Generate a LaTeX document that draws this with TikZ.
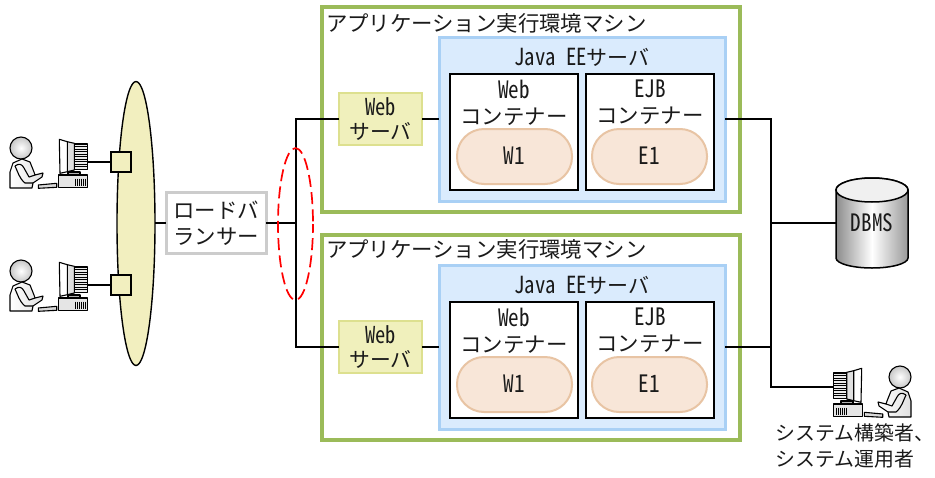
\documentclass[tikz,border=0pt]{standalone}
\usepackage{fontspec}
\setmainfont{Noto Sans CJK JP}
\newfontfamily\hw[RawFeature=+hwid,FakeStretch=0.88,Scale=1.12]{Noto Sans CJK JP}
\usetikzlibrary{shapes.geometric}
\definecolor{greenline}{HTML}{9BBB59}
\definecolor{javafill}{HTML}{DAEBFD}
\definecolor{javaline}{HTML}{A9D0F5}
\definecolor{wsfill}{HTML}{F0F0BC}
\definecolor{wsline}{HTML}{DDE08F}
\definecolor{pillfill}{HTML}{F8E6D8}
\definecolor{pillline}{HTML}{E8C4A4}
\definecolor{hubfill}{HTML}{F2EFBF}
\definecolor{lbline}{HTML}{CCCCCC}
\definecolor{ink}{HTML}{1A1A1A}
\tikzset{
  basefont/.style={font=\fontsize{21.4}{26}\selectfont, text=ink},
  label/.style={basefont, inner sep=0pt, outer sep=0pt, align=center},
  sized/.style n args={2}{rectangle, inner sep=0pt, outer sep=0pt, minimum width=#1pt, minimum height=#2pt},
  machinebox/.style={draw=greenline, line width=3.2pt, sized={418}{205}},
  javabox/.style={draw=javaline, fill=javafill, line width=3pt, sized={286}{164}},
  container/.style={draw=black, fill=white, line width=1.6pt, sized={128}{116}},
  pill/.style={draw=pillline, fill=pillfill, line width=2pt, rounded corners=27pt, sized={115}{55}, label},
  wsbox/.style={draw=wsline, fill=wsfill, line width=2pt, sized={83}{52}, label, font=\fontsize{20.8}{24.5}\selectfont},
  lbbox/.style={draw=lbline, fill=white, line width=3pt, sized={100}{61}, label},
  port/.style={draw=black, fill=hubfill, line width=1.3pt, sized={20}{20}},
  wire/.style={draw=black, line width=1.5pt},
  icon/.style={draw=black, line width=1.1pt, line join=round},
  pics/operator/.style={code={
    \shade[icon, inner color=white, outer color=black!22] (21,148) circle (11);
    \shade[icon, left color=white, right color=black!12] (10,188) -- (10,172) -- (13,163) -- (22,159) -- (30,162) -- (34,172) -- (35,175) -- (43,173) -- (42,177) -- (33,183) -- (32,188) -- cycle;
    \draw[icon] (15,166) .. controls (18,172) and (19,178) .. (25,183) -- (33,183);
    \draw[icon] (15,166) .. controls (19,163) and (22,164) .. (24,168) -- (29,177) -- (35,175);
    \filldraw[icon, fill=black!15] (38.3,185) -- (56.7,183.3) -- (56.7,187.3) -- (38.3,188.3) -- cycle;
    \filldraw[icon, fill=black!10] (58.3,175) rectangle (87.3,187.3);
    \foreach \vx in {75,77,79,81,83,85} {\draw[line width=0.8pt] (\vx,178.5) -- (\vx,185.5);}
    \filldraw[icon, fill=black!30] (68,172) rectangle (80,175);
    \filldraw[icon, fill=black!8] (74.3,144) rectangle (87.3,169.3);
    \foreach \vy in {146.5,149,...,167.5} {\draw[line width=0.8pt] (74.3,\vy) -- (87.3,\vy);}
    \filldraw[icon, fill=black!12] (67.3,141.7) -- (74.3,143.3) -- (74.3,170) -- (67.3,171.7) -- cycle;
    \filldraw[icon, fill=white] (59.3,139.3) -- (67.3,141.7) -- (67.3,171.7) -- (60,173.3) -- cycle;
  }},
}
\newcommand{\machine}[3]{%
  \begin{scope}[yshift=-#2pt]
    \node[machinebox] (m#1) at (531,109.5) {};
    \node[label, anchor=west, font=\fontsize{21.4}{26}\selectfont] (mt#1) at (326,#3) {アプリケーション実行環境マシン};
    \node[javabox] (j#1) at (582,119) {};
    \node[label, font=\fontsize{21}{26}\selectfont] (jt#1) at (582,57) {{\hw Java EE}サーバ};
    \node[container] (wc#1) at (514,132) {};
    \node[container] (ec#1) at (650,132) {};
    \node[label] (wct#1) at (514,102.5) {{\hw Web}\\コンテナー};
    \node[label] (ect#1) at (650,102.5) {{\hw EJB}\\コンテナー};
    \node[pill] (w#1) at (514.5,156.5) {\raisebox{1.5pt}{\hw W1}};
    \node[pill] (e#1) at (649.5,156.5) {\raisebox{1.5pt}{\hw E1}};
    \node[wsbox] (ws#1) at (380.5,119) {\raisebox{1pt}{\hw Web}\\\raisebox{1pt}{サーバ}};
    \draw[wire] (ws#1.east) -- (j#1.west);
    \coordinate (jr#1) at (j#1.east);
  \end{scope}}
\begin{document}
\begin{tikzpicture}[x=1pt,y=-1pt]
\useasboundingbox (0,0) rectangle (935,477);
\node[ellipse, draw=black, fill=hubfill, line width=1.4pt, inner sep=0pt, outer sep=0pt, minimum width=38pt, minimum height=284pt] (hub) at (136,223.5) {};
\pic at (0,0) {operator};
\pic at (0,123) {operator};
\coordinate (pc1) at (88,162);
\coordinate (pc2) at (88,285);
\node[port] (p1) at (121,162) {};
\node[port] (p2) at (121,285) {};
\draw[wire] (pc1) -- (p1.west);
\draw[wire] (pc2) -- (p2.west);
\node[lbbox] (lb) at (216,223) {ロードバ\\ランサー};
\draw[wire] (hub.east |- lb.west) -- (lb.west);
\machine{A}{0}{23}
\machine{B}{228}{21.5}
\coordinate (jl) at (296,223);
\coordinate (jt) at (296,119);
\coordinate (jb) at (296,347);
\draw[wire] (lb.east) -- (jl);
\draw[wire] (wsA.west) -- (jt) -- (jb) -- (wsB.west);
\node[ellipse, draw=red, line width=1.7pt, dash pattern=on 12pt off 5.3pt, dash phase=14.65pt, inner sep=0pt, outer sep=0pt, minimum width=35pt, minimum height=152pt] (ring) at (295.5,224) {};
\path[shading=axis, left color=black!45, right color=black!40, middle color=white, draw=black, line width=1.5pt]
  (836,190) -- (836,258) arc[start angle=180, end angle=360, x radius=36, y radius=-10] -- (908,190) arc[start angle=0, end angle=180, x radius=36, y radius=-12] -- cycle;
\draw[line width=1.5pt, fill=black!6] (872,190) ellipse[x radius=36, y radius=12];
\node[label, minimum width=72pt] (dbms) at (872,223) {{\hw DBMS}};
\coordinate (rt) at (771,119);
\coordinate (rm) at (771,223);
\coordinate (rb) at (771,347);
\coordinate (rc) at (771,387);
\coordinate (pc3) at (833,387);
\draw[wire] (jrA) -- (rt) -- (rc) -- (pc3);
\draw[wire] (jrB) -- (rb);
\draw[wire] (rm) -- (dbms.west);
\begin{scope}[shift={(921,229)},xscale=-1]
\pic[transform shape] at (0,0) {operator};
\end{scope}
\node[label, align=left, anchor=north west, font=\fontsize{19.9}{26}\selectfont] (ops) at (775.5,424) {システム構築者、\\システム運用者};
\end{tikzpicture}
\end{document}
